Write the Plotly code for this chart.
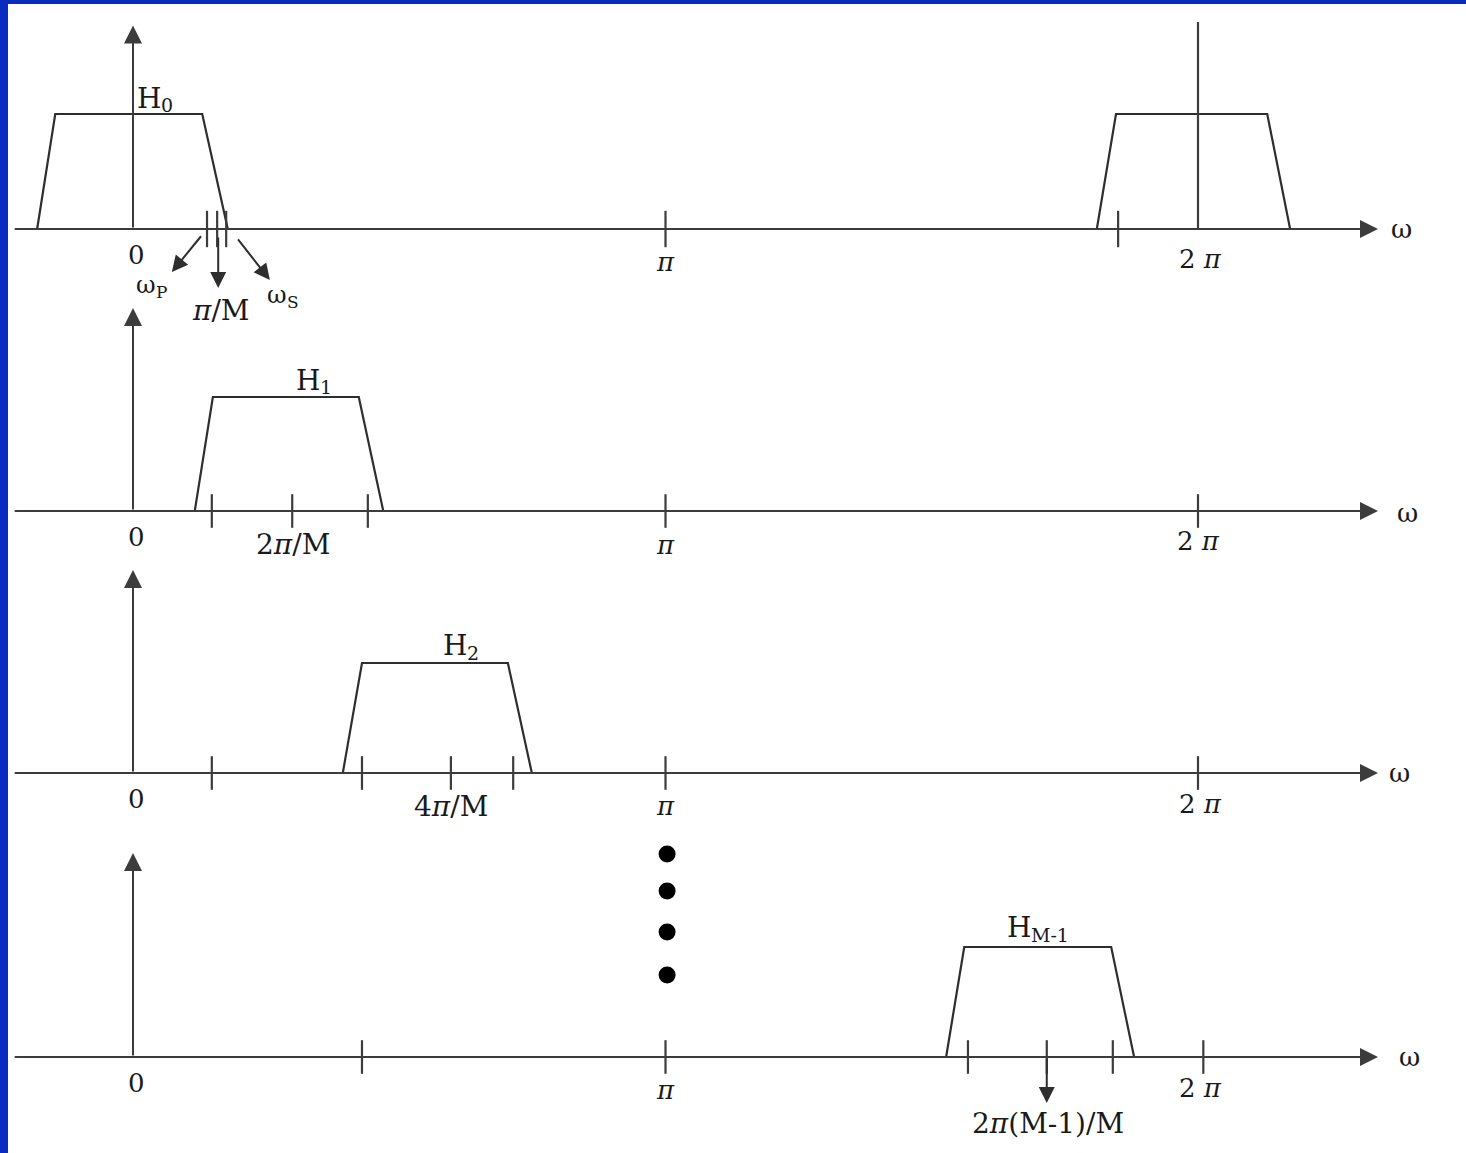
import plotly.graph_objects as go

FIG_W, FIG_H = 1466, 1153
LINE = "#2e2e2e"
AXIS = "#3c3c3c"
TEXT = "#1a1a1a"
FONT = "DejaVu Serif"
BORDER = "#0a2bbf"
PI = "<i>π</i>"

# ---------------------------------------------------------------------------
# Data: frequencies are given as ω/π, magnitudes are normalised to the passband
# ---------------------------------------------------------------------------
trap_y = [0, 1, 1, 0]

h0_x = [-0.180, -0.146, 0.130, 0.178]
h0_image_x = [1.810, 1.846, 2.130, 2.173]          # periodic copy around 2π
h0_ticks = [0.139, 0.158, 0.175, 1.0, 1.850]
h0_image_line = [2.0, 2.0]
h0_image_line_y = [0, 1.80]

h1_x = [0.116, 0.150, 0.424, 0.470]
h1_ticks = [0.148, 0.299, 0.441, 1.0, 2.0]

h2_x = [0.394, 0.430, 0.704, 0.749]
h2_ticks = [0.148, 0.430, 0.597, 0.714, 1.0, 2.0]

hm_x = [1.527, 1.561, 1.837, 1.880]
hm_ticks = [0.430, 1.568, 1.716, 1.840, 1.0, 2.010]

dots_x = [1.003, 1.003, 1.003, 1.003]
dots_y = [1.845, 1.509, 1.136, 0.745]

axis_start = [-0.225, -0.225, -0.225, -0.225]
axis_tip = [2.338, 2.338, 2.338, 2.338]
vert_axis_top = [1.77, 1.78, 1.845, 1.855]

# plain labels: (text, ω/π, magnitude, font size)
labels = [
    [("0", 0.0075, -0.226, 26), (PI, 1.0, -0.287, 26),
     ("2 " + PI, 2.004, -0.26, 26), ("ω", 2.383, 0.0, 26),
     (PI + "/M", 0.165, -0.705, 28)],
    [("0", 0.0075, -0.228, 26), ("2" + PI + "/M", 0.300, -0.298, 28),
     (PI, 1.0, -0.298, 26), ("2 " + PI, 2.0, -0.263, 26), ("ω", 2.394, -0.02, 26)],
    [("0", 0.0075, -0.236, 26), ("4" + PI + "/M", 0.597, -0.30, 28),
     (PI, 1.0, -0.30, 26), ("2 " + PI, 2.004, -0.282, 26), ("ω", 2.379, 0.0, 26)],
    [("0", 0.0075, -0.236, 26), (PI, 1.0, -0.30, 26),
     ("2 " + PI, 2.004, -0.282, 26), ("ω", 2.398, 0.0, 26),
     ("2" + PI + "(M-1)/M", 1.718, -0.60, 28)],
]

# labels with an index: (symbol, index, ω/π where they meet, magnitude, sizes)
indexed_labels = [
    [("H", "0", 0.053, 1.139, 28, 19), ("ω", "P", 0.043, -0.487, 24, 17),
     ("ω", "S", 0.289, -0.574, 24, 17)],
    [("H", "1", 0.351, 1.149, 28, 19)],
    [("H", "2", 0.627, 1.155, 28, 19)],
    [("H", "M-1", 1.686, 1.173, 28, 19)],
]

# pointer arrows: (panel, tail ω/π, tail mag, head ω/π, head mag)
pointers = [
    (0, 0.130, -0.05, 0.073, -0.374),
    (0, 0.160, -0.06, 0.160, -0.513),
    (0, 0.195, -0.078, 0.257, -0.443),
    (3, 1.716, 0.0, 1.716, -0.418),
]

# ---------------------------------------------------------------------------
# Layout of the four stacked frequency plots (pixel geometry of each row)
# ---------------------------------------------------------------------------
rows = [
    dict(baseline=229, unit=115, band=(0, 330)),
    dict(baseline=511, unit=114, band=(290, 580)),
    dict(baseline=773, unit=110, band=(555, 835)),
    dict(baseline=1057, unit=110, band=(835, 1153)),
]
x_origin_px, px_per_pi = 133, 532.5

fig = go.Figure()
yrefs = ["y", "y2", "y3", "y4"]


def add_line(xs, ys, row, color=LINE, width=2.2):
    fig.add_trace(go.Scatter(x=xs, y=ys, yaxis=yrefs[row], mode="lines",
                             line=dict(color=color, width=width),
                             hoverinfo="skip", showlegend=False))


def add_ticks(xs, row, size=24):
    fig.add_trace(go.Scatter(x=xs, y=[0] * len(xs), yaxis=yrefs[row], mode="markers",
                             marker=dict(symbol="line-ns", size=size,
                                         line=dict(width=2.2, color=AXIS)),
                             hoverinfo="skip", showlegend=False, cliponaxis=False))


# passbands
add_line(h0_x, trap_y, 0)
add_line(h0_image_x, trap_y, 0)
add_line(h0_image_line, h0_image_line_y, 0, color=AXIS)
add_line(h1_x, trap_y, 1)
add_line(h2_x, trap_y, 2)
add_line(hm_x, trap_y, 3)

# tick marks on each ω axis
add_ticks(h0_ticks, 0, size=26)
add_ticks(h1_ticks, 1)
add_ticks(h2_ticks, 2)
add_ticks(hm_ticks, 3)

# ellipsis between H2 and H(M-1)
fig.add_trace(go.Scatter(x=dots_x, y=dots_y, yaxis="y4", mode="markers",
                         marker=dict(symbol="circle", size=17, color="#000000"),
                         hoverinfo="skip", showlegend=False, cliponaxis=False))

annotations = []


def arrow(x_tip, y_tip, x_tail, y_tail, yr, size, color=AXIS, width=2):
    annotations.append(dict(x=x_tip, y=y_tip, ax=x_tail, ay=y_tail,
                            xref="x", yref=yr, axref="x", ayref=yr, text="",
                            showarrow=True, arrowhead=2, arrowsize=size,
                            arrowwidth=width, arrowcolor=color, standoff=0))


for i in range(4):
    yr = yrefs[i]
    arrow(axis_tip[i], 0, axis_start[i], 0, yr, 1.8)          # ω axis
    arrow(0, vert_axis_top[i], 0, 0, yr, 1.8)                 # magnitude axis
    for text, xv, yv, size in labels[i]:
        annotations.append(dict(x=xv, y=yv, xref="x", yref=yr, text=text,
                                showarrow=False,
                                font=dict(family=FONT, size=size, color=TEXT)))
    for sym, idx, xv, yv, size, sub_size in indexed_labels[i]:
        annotations.append(dict(x=xv, y=yv, xref="x", yref=yr, text=sym,
                                showarrow=False, xanchor="right",
                                borderpad=0, borderwidth=0,
                                font=dict(family=FONT, size=size, color=TEXT)))
        annotations.append(dict(x=xv, y=yv, xref="x", yref=yr, text=idx,
                                showarrow=False, xanchor="left", yshift=-7,
                                borderpad=0, borderwidth=0,
                                font=dict(family=FONT, size=sub_size, color=TEXT)))

for row, tx, ty, hx, hy in pointers:
    arrow(hx, hy, tx, ty, yrefs[row], 1.6, color=LINE)

layout_axes = {}
for i, r in enumerate(rows):
    p0, p1 = r["band"]
    key = "yaxis" if i == 0 else f"yaxis{i + 1}"
    layout_axes[key] = dict(
        domain=[1 - p1 / FIG_H, 1 - p0 / FIG_H],
        range=[(r["baseline"] - p1) / r["unit"], (r["baseline"] - p0) / r["unit"]],
        anchor="x", visible=False, fixedrange=True,
    )

fig.update_layout(
    width=FIG_W, height=FIG_H,
    margin=dict(l=0, r=0, t=0, b=0),
    paper_bgcolor="#ffffff", plot_bgcolor="rgba(0,0,0,0)",
    xaxis=dict(domain=[0, 1], anchor="y", visible=False, fixedrange=True,
               range=[-x_origin_px / px_per_pi, (FIG_W - x_origin_px) / px_per_pi]),
    annotations=annotations,
    shapes=[
        dict(type="rect", xref="paper", yref="paper", x0=0, x1=8 / FIG_W, y0=0, y1=1,
             fillcolor=BORDER, line=dict(width=0), layer="above"),
        dict(type="rect", xref="paper", yref="paper", x0=0, x1=1, y0=1 - 4 / FIG_H, y1=1,
             fillcolor=BORDER, line=dict(width=0), layer="above"),
    ],
    showlegend=False,
    **layout_axes,
)

fig.write_html("out.html", config={"displayModeBar": False})
